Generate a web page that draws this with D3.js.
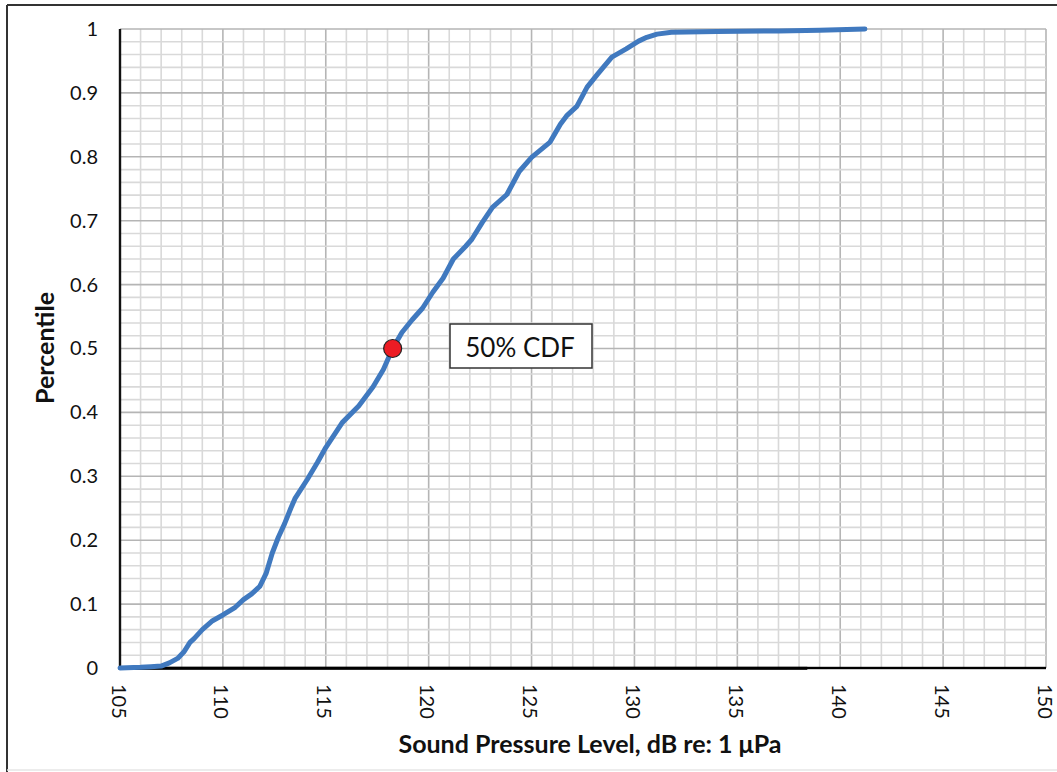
<!DOCTYPE html>
<html>
<head>
<meta charset="utf-8">
<script src="https://cdn.jsdelivr.net/npm/d3@7"></script>
<style>
  html, body { margin: 0; padding: 0; background: #fff; }
  svg { display: block; font-family: Lato, "Open Sans", sans-serif; }
</style>
</head>
<body>
<svg id="chart" width="1057" height="772"></svg>
<script>
// Cumulative distribution of sound pressure level
const splValues = [105.0, 106.0, 106.5, 107.0, 107.4, 107.8, 108.1, 108.4, 108.6, 109.0,
  109.5, 110.0, 110.6, 111.0, 111.4, 111.8, 112.1, 112.4, 112.7, 113.0,
  113.3, 113.5, 114.1, 114.6, 115.0, 115.8, 116.6, 117.3, 117.8, 118.25,
  118.7, 119.2, 119.7, 120.2, 120.7, 121.2, 121.8, 122.1, 122.6, 123.1,
  123.8, 124.4, 125.0, 125.9, 126.4, 126.7, 127.2, 127.7, 128.2, 128.9,
  129.6, 130.2, 130.6, 131.1, 131.8, 134.0, 137.0, 139.0, 141.2];
const cdfValues = [0.000, 0.001, 0.002, 0.003, 0.008, 0.015, 0.025, 0.040, 0.046, 0.060,
  0.074, 0.083, 0.095, 0.107, 0.116, 0.128, 0.148, 0.180, 0.205, 0.226,
  0.250, 0.265, 0.295, 0.322, 0.345, 0.384, 0.410, 0.440, 0.467, 0.500,
  0.525, 0.545, 0.563, 0.588, 0.610, 0.640, 0.660, 0.671, 0.697, 0.721,
  0.741, 0.777, 0.799, 0.823, 0.851, 0.864, 0.879, 0.909, 0.929, 0.956,
  0.969, 0.981, 0.987, 0.992, 0.995, 0.996, 0.997, 0.998, 1.000];

// Median point
const medianSpl = [118.25];
const medianCdf = [0.5];
const medianLabel = ["50% CDF"];

const xTicks = [105, 110, 115, 120, 125, 130, 135, 140, 145, 150];
const yTicks = [0, 0.1, 0.2, 0.3, 0.4, 0.5, 0.6, 0.7, 0.8, 0.9, 1];
const xTitle = "Sound Pressure Level, dB re: 1 \u03BCPa";
const yTitle = "Percentile";

const svg = d3.select("#chart");
const x = d3.scaleLinear().domain([105, 150]).range([120, 1046]);
const y = d3.scaleLinear().domain([0, 1]).range([668, 29]);

// Outer frame
svg.append("line").attr("x1", 7).attr("x2", 1057).attr("y1", 5).attr("y2", 5)
  .attr("stroke", "#333").attr("stroke-width", 2);
svg.append("line").attr("x1", 7).attr("x2", 7).attr("y1", 5).attr("y2", 772)
  .attr("stroke", "#333").attr("stroke-width", 2);
svg.append("line").attr("x1", 7).attr("x2", 1057).attr("y1", 770).attr("y2", 770)
  .attr("stroke", "#e6e6e6").attr("stroke-width", 1.5);

// Grid
const grid = svg.append("g");
const xMinor = d3.range(106, 151, 1);
const yMinor = d3.range(1, 51).map(d => d / 50);
grid.selectAll("line.xmin").data(xMinor).join("line")
  .attr("x1", d => x(d)).attr("x2", d => x(d))
  .attr("y1", y(0)).attr("y2", y(1))
  .attr("stroke", d => d % 5 === 0 ? "#b5b5b5" : "#d9d9d9")
  .attr("stroke-width", 1.6);
grid.selectAll("line.ymin").data(yMinor).join("line")
  .attr("x1", x(105)).attr("x2", x(150))
  .attr("y1", d => y(d)).attr("y2", d => y(d))
  .attr("stroke", (d, i) => (i + 1) % 5 === 0 ? "#b5b5b5" : "#d9d9d9")
  .attr("stroke-width", 1.6);

// Axes
const yAxis = d3.axisLeft(y).tickValues(yTicks).tickSize(0).tickPadding(22)
  .tickFormat(d => d3.format("")(+d.toFixed(1)));
svg.append("g").attr("transform", `translate(${x(105)},0)`).call(yAxis)
  .call(g => g.select(".domain").remove())
  .selectAll("text").attr("font-size", 20).attr("fill", "#111")
  .attr("font-family", "Lato, sans-serif");

const xAxis = d3.axisBottom(x).tickValues(xTicks).tickSize(0).tickFormat(d3.format("d"));
const xg = svg.append("g").attr("transform", `translate(0,${y(0)})`).call(xAxis);
xg.select(".domain").remove();
xg.selectAll("text")
  .attr("font-size", 20).attr("fill", "#111").attr("font-family", "Lato, sans-serif")
  .attr("dy", null).attr("y", 0)
  .attr("text-anchor", "start").attr("dominant-baseline", "central")
  .attr("transform", "translate(-1,16) rotate(90)");

// Axis lines: full baseline, heavier over the left part
svg.append("rect").attr("x", x(105)).attr("y", y(0) - 1.2)
  .attr("width", x(150) - x(105)).attr("height", 2.4).attr("fill", "#000");
svg.append("rect").attr("x", x(105)).attr("y", y(0) - 1.2)
  .attr("width", x(138.4) - x(105)).attr("height", 3).attr("fill", "#000");
svg.append("rect").attr("x", x(105) - 1.2).attr("y", y(1))
  .attr("width", 2.4).attr("height", y(0) - y(1) + 1.5).attr("fill", "#111");

// Titles
svg.append("text").attr("x", 590).attr("y", 753).attr("text-anchor", "middle")
  .attr("font-size", 25).attr("font-weight", "bold").attr("fill", "#111").text(xTitle);
svg.append("text").attr("transform", "translate(54,348) rotate(-90)")
  .attr("text-anchor", "middle").attr("font-size", 25).attr("font-weight", "bold")
  .attr("fill", "#111").text(yTitle);

// CDF curve
const pts = splValues.map((v, i) => [v, cdfValues[i]]);
svg.append("path").datum(pts)
  .attr("d", d3.line().x(d => x(d[0])).y(d => y(d[1])))
  .attr("fill", "none").attr("stroke", "#4079bf").attr("stroke-width", 5)
  .attr("stroke-linejoin", "round").attr("stroke-linecap", "round");

// Median marker and label
svg.selectAll("circle.med").data(medianSpl).join("circle")
  .attr("cx", d => x(d)).attr("cy", (d, i) => y(medianCdf[i])).attr("r", 9)
  .attr("fill", "#ec1c24").attr("stroke", "#222").attr("stroke-width", 1.2);

const lab = svg.append("g");
lab.append("rect").attr("x", 450).attr("y", 324).attr("width", 142).attr("height", 44)
  .attr("fill", "#fff").attr("stroke", "#333").attr("stroke-width", 1.5);
lab.append("text").attr("x", 520).attr("y", 347).attr("text-anchor", "middle")
  .attr("dominant-baseline", "central").attr("font-size", 26).attr("fill", "#111")
  .text(medianLabel[0]);
</script>
</body>
</html>
